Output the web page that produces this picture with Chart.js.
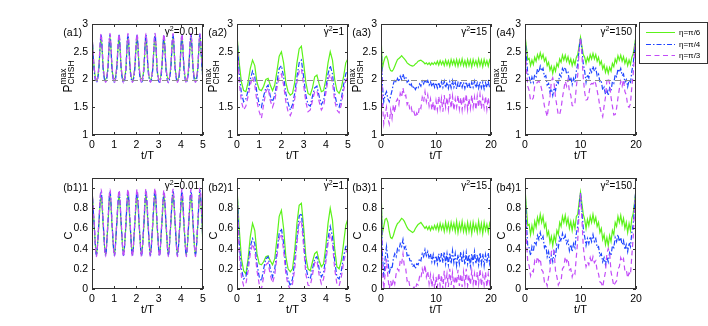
<!DOCTYPE html>
<html>
<head>
<meta charset="utf-8">
<script src="https://cdn.jsdelivr.net/npm/chart.js@4.4.1/dist/chart.umd.min.js"></script>
<style>
  body { margin: 0; background: #fff; }
  #wrap { position: relative; width: 708px; height: 326px; overflow: hidden; }
  #wrap canvas { position: absolute; }
</style>
</head>
<body>
<div id="wrap"></div>
<script>
// ---- data ----
const seriesNames = ['η=π/6', 'η=π/4', 'η=π/3'];
const pTicks = [1, 1.5, 2, 2.5, 3];
const cTicks = [0, 0.2, 0.4, 0.6, 0.8, 1];
const tTicksShort = [0, 1, 2, 3, 4, 5];
const tTicksLong = [0, 10, 20];
const refLevel = 2;

const t1 = [0,0.1,0.2,0.3,0.41,0.51,0.61,0.71,0.81,0.91,1.01,1.11,1.22,1.32,1.42,1.52,1.62,1.72,1.82,1.92,
  2.03,2.13,2.23,2.33,2.43,2.53,2.63,2.73,2.84,2.94,3.04,3.14,3.24,3.34,3.44,3.54,3.65,3.75,3.85,3.95,
  4.05,4.15,4.25,4.35,4.46,4.56,4.66,4.76,4.86,4.96,5];
const t2 = [0,0.1,0.2,0.3,0.4,0.5,0.6,0.7,0.8,0.9,1,1.1,1.2,1.3,1.4,1.5,1.6,1.7,1.8,1.9,
  2,2.1,2.2,2.3,2.4,2.5,2.6,2.7,2.8,2.9,3,3.1,3.2,3.3,3.4,3.5,3.6,3.7,3.8,3.9,
  4,4.1,4.2,4.3,4.4,4.5,4.6,4.7,4.8,4.9,5];
const t3 = [0,0.25,0.5,0.75,1,1.25,1.5,1.75,2,2.25,2.5,2.75,3,3.25,3.5,3.75,4,4.25,4.5,4.75,
  5,5.25,5.5,5.75,6,6.25,6.5,6.75,7,7.25,7.5,7.75,8,8.25,8.5,8.75,9,9.25,9.5,9.75,
  10,10.25,10.5,10.75,11,11.25,11.5,11.75,12,12.25,12.5,12.75,13,13.25,13.5,13.75,14,14.25,14.5,14.75,
  15,15.25,15.5,15.75,16,16.25,16.5,16.75,17,17.25,17.5,17.75,18,18.25,18.5,18.75,19,19.25,19.5,19.75,20];

// gamma^2 = 0.01
const a1G = [2.8,2.2,2.0,2.17, 2.76,2.18,2.0,2.18, 2.77,2.17,2.01,2.19, 2.76,2.18,2.0,2.17, 2.77,2.19,2.0,2.18,
  2.76,2.18,2.01,2.17, 2.77,2.18,2.0,2.18, 2.78,2.17,2.0,2.19, 2.76,2.18,2.01,2.18, 2.77,2.19,2.0,2.17,
  2.76,2.18,2.0,2.18, 2.77,2.17,2.01,2.18, 2.78,2.2,2.04];
const a1B = [2.82,2.15,1.95,2.14, 2.8,2.15,1.96,2.15, 2.81,2.14,1.95,2.16, 2.8,2.15,1.95,2.14, 2.81,2.16,1.96,2.15,
  2.8,2.15,1.95,2.14, 2.81,2.15,1.96,2.15, 2.82,2.14,1.95,2.16, 2.8,2.15,1.95,2.15, 2.81,2.16,1.96,2.14,
  2.8,2.15,1.95,2.15, 2.81,2.14,1.96,2.15, 2.82,2.17,2.0];
const a1P = [2.83,2.22,1.94,2.21, 2.82,2.22,1.95,2.22, 2.83,2.21,1.94,2.23, 2.82,2.22,1.94,2.21, 2.83,2.23,1.95,2.22,
  2.82,2.22,1.94,2.21, 2.83,2.22,1.95,2.22, 2.83,2.21,1.94,2.23, 2.82,2.22,1.94,2.22, 2.83,2.23,1.95,2.21,
  2.82,2.22,1.94,2.22, 2.83,2.21,1.95,2.22, 2.83,2.24,2.02];
const b1G = [1.0,0.62,0.34,0.6, 0.93,0.61,0.34,0.61, 0.94,0.6,0.34,0.62, 0.93,0.61,0.35,0.6, 0.94,0.62,0.34,0.61,
  0.93,0.61,0.34,0.6, 0.94,0.61,0.35,0.61, 0.95,0.6,0.34,0.62, 0.93,0.61,0.34,0.61, 0.94,0.62,0.35,0.6,
  0.93,0.61,0.34,0.61, 0.94,0.6,0.34,0.61, 0.95,0.63,0.4];
const b1B = [1.0,0.63,0.33,0.62, 0.97,0.63,0.33,0.62, 0.97,0.62,0.33,0.63, 0.96,0.63,0.33,0.62, 0.97,0.63,0.33,0.62,
  0.97,0.62,0.33,0.62, 0.97,0.63,0.33,0.63, 0.98,0.62,0.33,0.63, 0.96,0.63,0.33,0.62, 0.97,0.63,0.33,0.62,
  0.97,0.62,0.33,0.63, 0.97,0.62,0.33,0.62, 0.98,0.65,0.42];
const b1P = [1.0,0.65,0.32,0.64, 0.99,0.65,0.32,0.64, 0.99,0.64,0.32,0.65, 0.98,0.65,0.32,0.64, 0.99,0.65,0.32,0.64,
  0.99,0.64,0.32,0.65, 0.99,0.65,0.32,0.64, 1.0,0.64,0.32,0.65, 0.98,0.65,0.32,0.64, 0.99,0.65,0.32,0.64,
  0.99,0.64,0.32,0.65, 0.99,0.64,0.32,0.64, 1.0,0.67,0.43];

// gamma^2 = 1
const a2G = [2.8,2.3,1.95,1.8,1.78,1.95,2.2,2.35,2.25,1.95, 1.82,1.8,1.88,2.0,2.02,1.9,1.8,1.9,2.15,2.42,
  2.5,2.3,1.95,1.78,1.72,1.75,1.95,2.3,2.55,2.6, 2.3,1.95,1.75,1.72,1.85,2.05,2.08,1.92,1.78,1.8,
  2.0,2.3,2.5,2.35,2.0,1.8,1.75,1.85,2.05,2.3, 2.38];
const a2B = [2.8,2.1,1.75,1.6,1.65,1.8,2.0,2.15,2.05,1.75, 1.55,1.5,1.7,1.85,1.9,1.7,1.6,1.72,1.95,2.2,
  2.25,2.05,1.75,1.58,1.45,1.55,1.75,2.05,2.3,2.35, 2.05,1.72,1.55,1.52,1.7,1.85,1.88,1.7,1.55,1.62,
  1.85,2.1,2.25,2.1,1.75,1.55,1.5,1.65,1.9,2.1, 2.2];
const a2P = [2.8,1.95,1.6,1.45,1.52,1.7,1.9,2.05,1.9,1.6, 1.42,1.3,1.55,1.78,1.85,1.62,1.5,1.62,1.85,2.05,
  2.1,1.9,1.6,1.42,1.35,1.45,1.65,1.95,2.15,2.2, 1.9,1.6,1.42,1.45,1.62,1.78,1.8,1.6,1.45,1.52,
  1.75,2.0,2.1,1.95,1.62,1.45,1.4,1.55,1.8,1.98, 2.05];
const b2G = [1.0,0.6,0.3,0.18,0.15,0.3,0.52,0.65,0.58,0.35, 0.25,0.24,0.27,0.32,0.33,0.28,0.24,0.3,0.5,0.72,
  0.78,0.6,0.32,0.2,0.17,0.2,0.38,0.65,0.83,0.85, 0.62,0.32,0.2,0.18,0.27,0.35,0.37,0.28,0.22,0.25,
  0.42,0.65,0.8,0.68,0.4,0.22,0.2,0.28,0.45,0.63, 0.7];
const b2B = [1.0,0.45,0.2,0.1,0.12,0.25,0.42,0.5,0.45,0.25, 0.12,0.08,0.2,0.3,0.32,0.2,0.12,0.2,0.38,0.55,
  0.6,0.45,0.22,0.1,0.03,0.1,0.28,0.5,0.72,0.75, 0.5,0.22,0.12,0.1,0.2,0.3,0.32,0.2,0.12,0.16,
  0.32,0.5,0.62,0.52,0.28,0.12,0.1,0.18,0.32,0.42, 0.45];
const b2P = [1.0,0.35,0.12,0.03,0.05,0.18,0.35,0.45,0.38,0.18, 0.05,0.0,0.12,0.24,0.26,0.14,0.06,0.14,0.32,0.5,
  0.55,0.38,0.15,0.04,0.0,0.05,0.2,0.45,0.65,0.68, 0.42,0.15,0.04,0.03,0.14,0.26,0.28,0.14,0.05,0.1,
  0.26,0.45,0.55,0.45,0.2,0.05,0.03,0.12,0.26,0.36, 0.4];

// gamma^2 = 15
const a3G = [2.8,2.2,2.32,2.4,2.42,2.35,2.22,2.16,2.15,2.18, 2.24,2.3,2.36,2.38,2.4,2.43,2.4,2.37,2.34,2.3,
  2.28,2.26,2.25,2.24,2.25,2.28,2.3,2.33,2.34,2.35, 2.33,2.31,2.28,2.3,2.27,2.3,2.26,2.3,2.27,2.31,
  2.27,2.33,2.26,2.34,2.27,2.33,2.25,2.35,2.26,2.34, 2.24,2.36,2.27,2.35,2.25,2.36,2.24,2.35,2.26,2.37,
  2.25,2.34,2.24,2.36,2.25,2.35,2.23,2.36,2.26,2.34, 2.24,2.37,2.25,2.35,2.23,2.36,2.26,2.34,2.24,2.35, 2.28];
const a3B = [2.8,1.9,1.6,1.72,1.78,1.65,1.6,1.7,1.8,1.92, 2.0,1.95,2.02,1.96,2.06,2.0,2.1,2.02,2.05,1.95,
  1.98,1.88,1.92,1.84,1.88,1.82,1.87,1.85,1.92,1.88, 1.97,1.92,2.0,1.93,1.98,1.9,1.96,1.87,1.95,1.86,
  1.94,1.85,1.95,1.84,1.96,1.86,1.97,1.85,1.95,1.84, 1.96,1.85,1.98,1.86,1.95,1.83,1.94,1.85,1.97,1.86,
  1.95,1.84,1.96,1.85,1.94,1.83,1.95,1.86,1.97,1.85, 1.94,1.84,1.96,1.85,1.95,1.83,1.94,1.86,1.96,1.85, 1.92];
const a3P = [2.8,1.6,1.2,1.35,1.5,1.3,1.2,1.45,1.3,1.55, 1.4,1.6,1.65,1.55,1.75,1.68,1.85,1.7,1.72,1.55,
  1.6,1.45,1.5,1.38,1.42,1.32,1.4,1.35,1.52,1.48, 1.68,1.6,1.78,1.6,1.72,1.52,1.65,1.45,1.6,1.42,
  1.62,1.45,1.7,1.48,1.66,1.42,1.72,1.5,1.68,1.46, 1.74,1.48,1.7,1.44,1.65,1.5,1.72,1.47,1.68,1.45,
  1.7,1.5,1.74,1.46,1.66,1.48,1.72,1.5,1.68,1.45, 1.7,1.5,1.73,1.47,1.67,1.49,1.7,1.46,1.68,1.5, 1.62];
const b3G = [1.0,0.55,0.62,0.69,0.7,0.66,0.57,0.51,0.5,0.53, 0.58,0.62,0.65,0.66,0.68,0.7,0.69,0.67,0.64,0.61,
  0.59,0.58,0.57,0.56,0.57,0.6,0.62,0.64,0.65,0.66, 0.64,0.62,0.6,0.62,0.59,0.62,0.58,0.62,0.59,0.63,
  0.59,0.64,0.58,0.65,0.59,0.64,0.57,0.66,0.58,0.65, 0.57,0.66,0.59,0.65,0.57,0.67,0.56,0.65,0.58,0.67,
  0.57,0.64,0.56,0.66,0.57,0.65,0.55,0.66,0.58,0.64, 0.56,0.67,0.57,0.65,0.55,0.66,0.58,0.64,0.56,0.65, 0.6];
const b3B = [1.0,0.35,0.12,0.3,0.42,0.3,0.15,0.22,0.2,0.3, 0.35,0.32,0.4,0.38,0.45,0.42,0.49,0.4,0.42,0.33,
  0.35,0.28,0.28,0.22,0.24,0.2,0.25,0.24,0.3,0.28, 0.35,0.32,0.39,0.33,0.37,0.3,0.35,0.27,0.34,0.26,
  0.33,0.25,0.35,0.26,0.36,0.26,0.37,0.25,0.35,0.24, 0.36,0.25,0.38,0.26,0.35,0.23,0.34,0.25,0.37,0.26,
  0.35,0.24,0.36,0.25,0.34,0.23,0.35,0.26,0.37,0.25, 0.34,0.24,0.36,0.25,0.35,0.23,0.34,0.26,0.36,0.25, 0.32];
const b3P = [1.0,0.2,0.0,0.15,0.3,0.12,0.0,0.08,0.02,0.1, 0.05,0.15,0.2,0.18,0.28,0.25,0.35,0.22,0.2,0.08,
  0.1,0.02,0.0,0.0,0.02,0.0,0.05,0.04,0.12,0.1, 0.2,0.15,0.24,0.12,0.18,0.05,0.14,0.02,0.12,0.0,
  0.12,0.02,0.16,0.03,0.14,0.0,0.18,0.04,0.15,0.02, 0.2,0.04,0.16,0.01,0.13,0.05,0.19,0.03,0.15,0.02,
  0.17,0.05,0.2,0.03,0.14,0.04,0.18,0.05,0.15,0.02, 0.17,0.05,0.2,0.03,0.14,0.04,0.17,0.02,0.15,0.05, 0.1];

// gamma^2 = 150
const a4G = [2.8,2.58,2.36,2.38,2.25,2.35,2.27,2.4,2.33,2.45, 2.37,2.48,2.38,2.45,2.33,2.39,2.25,2.31,2.17,2.24,
  2.11,2.23,2.15,2.29,2.23,2.37,2.31,2.44,2.35,2.44, 2.33,2.41,2.29,2.37,2.25,2.35,2.27,2.4,2.45,2.6,
  2.76,2.6,2.45,2.4,2.29,2.4,2.33,2.45,2.37,2.47, 2.37,2.45,2.33,2.4,2.27,2.33,2.19,2.26,2.13,2.22,
  2.11,2.22,2.15,2.29,2.23,2.37,2.3,2.43,2.35,2.44, 2.33,2.41,2.29,2.37,2.25,2.35,2.27,2.4,2.47,2.62, 2.78];
const a4B = [2.8,2.42,2.1,2.06,1.93,2.04,1.95,2.09,2.05,2.19, 2.13,2.24,2.15,2.2,2.05,2.07,1.9,1.93,1.77,1.83,
  1.71,1.85,1.8,1.96,1.93,2.09,2.05,2.2,2.15,2.22, 2.1,2.13,1.97,2.04,1.91,2.02,1.95,2.15,2.28,2.55,
  2.75,2.55,2.28,2.15,1.95,2.09,2.03,2.18,2.13,2.24, 2.15,2.2,2.07,2.1,1.95,1.97,1.81,1.86,1.73,1.82,
  1.71,1.85,1.8,1.96,1.93,2.09,2.05,2.19,2.13,2.2, 2.07,2.1,1.95,2.0,1.87,1.99,1.93,2.15,2.28,2.56, 2.78];
const a4P = [2.8,2.2,1.88,1.8,1.62,1.63,1.67,1.88,1.92,1.95, 1.97,1.93,1.82,1.68,1.52,1.43,1.33,1.52,1.68,1.97,
  2.03,1.92,1.68,1.52,1.36,1.37,1.48,1.67,1.83,1.97, 1.88,2.0,1.78,1.72,1.53,1.52,1.58,1.87,2.08,2.52,
  2.75,2.45,2.03,1.77,1.63,1.64,1.73,1.9,1.93,1.92, 1.98,1.92,1.8,1.67,1.5,1.4,1.33,1.52,1.68,1.97,
  2.03,1.92,1.68,1.52,1.36,1.37,1.48,1.67,1.83,1.97, 1.88,2.0,1.78,1.72,1.53,1.5,1.56,1.87,2.1,2.52, 2.78];
const b4G = [1.0,0.8,0.63,0.64,0.54,0.63,0.56,0.67,0.61,0.71, 0.65,0.74,0.66,0.72,0.61,0.65,0.53,0.57,0.46,0.52,
  0.43,0.53,0.47,0.58,0.54,0.66,0.62,0.72,0.66,0.73, 0.64,0.7,0.6,0.67,0.58,0.67,0.6,0.72,0.74,0.86,
  0.96,0.85,0.74,0.69,0.6,0.69,0.63,0.72,0.66,0.74, 0.66,0.71,0.62,0.66,0.56,0.6,0.49,0.54,0.44,0.51,
  0.43,0.53,0.47,0.58,0.54,0.66,0.62,0.72,0.66,0.73, 0.64,0.7,0.6,0.66,0.56,0.65,0.58,0.7,0.75,0.87, 0.97];
const b4B = [1.0,0.66,0.42,0.41,0.33,0.42,0.37,0.47,0.44,0.53, 0.49,0.56,0.49,0.52,0.41,0.44,0.32,0.37,0.27,0.33,
  0.27,0.37,0.33,0.44,0.41,0.51,0.47,0.55,0.49,0.53, 0.45,0.48,0.38,0.44,0.37,0.45,0.41,0.55,0.62,0.8,
  0.95,0.78,0.6,0.52,0.43,0.5,0.45,0.52,0.47,0.54, 0.47,0.5,0.41,0.42,0.33,0.35,0.27,0.31,0.24,0.32,
  0.27,0.36,0.33,0.43,0.41,0.51,0.47,0.54,0.47,0.51, 0.44,0.48,0.39,0.44,0.37,0.46,0.42,0.56,0.64,0.84, 1.0];
const b4P = [1.0,0.5,0.26,0.23,0.13,0.18,0.17,0.28,0.25,0.32, 0.27,0.3,0.19,0.17,0.07,0.08,0.03,0.12,0.18,0.37,
  0.4,0.37,0.18,0.12,0.04,0.07,0.08,0.2,0.22,0.32, 0.27,0.3,0.19,0.2,0.12,0.17,0.15,0.32,0.48,0.76,
  0.95,0.7,0.42,0.3,0.22,0.27,0.24,0.31,0.26,0.32, 0.26,0.28,0.18,0.15,0.07,0.06,0.02,0.1,0.17,0.35,
  0.4,0.36,0.17,0.1,0.03,0.06,0.08,0.2,0.22,0.31, 0.27,0.3,0.18,0.19,0.11,0.16,0.14,0.33,0.52,0.8, 1.0];

// ---- styles ----
const FAM = '"Liberation Sans", Arial, Helvetica, sans-serif';
const colors = ['#5cf21a', '#1f44ff', '#c24cf8'];
const dashes = [[], [5, 2, 1.5, 2], [5, 3.5]];

Chart.defaults.font.family = FAM;
Chart.defaults.color = '#000';

const panels = [
  { name: '(a1)', gamma: '0.01', kind: 'P', t: t1, ys: [a1G, a1B, a1P], xTicks: tTicksShort, left: 92,  top: 24, w: 111, smooth: true },
  { name: '(a2)', gamma: '1',    kind: 'P', t: t2, ys: [a2G, a2B, a2P], xTicks: tTicksShort, left: 237, top: 24, w: 111 },
  { name: '(a3)', gamma: '15',   kind: 'P', t: t3, ys: [a3G, a3B, a3P], xTicks: tTicksLong,  left: 381, top: 24, w: 110 },
  { name: '(a4)', gamma: '150',  kind: 'P', t: t3, ys: [a4G, a4B, a4P], xTicks: tTicksLong,  left: 525, top: 24, w: 111, legend: true },
  { name: '(b1)', gamma: '0.01', kind: 'C', t: t1, ys: [b1G, b1B, b1P], xTicks: tTicksShort, left: 92,  top: 178, w: 111, smooth: true },
  { name: '(b2)', gamma: '1',    kind: 'C', t: t2, ys: [b2G, b2B, b2P], xTicks: tTicksShort, left: 237, top: 178, w: 111 },
  { name: '(b3)', gamma: '15',   kind: 'C', t: t3, ys: [b3G, b3B, b3P], xTicks: tTicksLong,  left: 381, top: 178, w: 110 },
  { name: '(b4)', gamma: '150',  kind: 'C', t: t3, ys: [b4G, b4B, b4P], xTicks: tTicksLong,  left: 525, top: 178, w: 111 }
];

function drawGamma(ctx, right, base, val) {
  const f1 = '10px ' + FAM, f2 = '7px ' + FAM;
  ctx.font = f1;
  const wG = ctx.measureText('γ').width, wE = ctx.measureText('=' + val).width;
  ctx.font = f2;
  const w2 = ctx.measureText('2').width;
  const x0 = right - (wG + w2 + wE);
  ctx.textAlign = 'left';
  ctx.textBaseline = 'alphabetic';
  ctx.font = f1; ctx.fillText('γ', x0, base);
  ctx.font = f2; ctx.fillText('2', x0 + wG, base - 4);
  ctx.font = f1; ctx.fillText('=' + val, x0 + wG + w2, base);
}

function drawPTitle(ctx, bx, cy) {
  ctx.save();
  ctx.translate(bx, cy);
  ctx.rotate(-Math.PI / 2);
  const fBig = '12px ' + FAM, fSmall = '8.5px ' + FAM;
  ctx.font = fBig;
  const wP = ctx.measureText('P').width;
  ctx.font = fSmall;
  const wS = ctx.measureText('CHSH').width;
  const x0 = -(wP + wS) / 2;
  ctx.textAlign = 'left';
  ctx.textBaseline = 'alphabetic';
  ctx.font = fBig; ctx.fillText('P', x0, 0);
  ctx.font = fSmall;
  ctx.fillText('max', x0 + wP, -6);
  ctx.fillText('CHSH', x0 + wP, 2);
  ctx.restore();
}

function decor(p) {
  return {
    id: 'decor',
    afterDatasetsDraw(chart) {
      const ctx = chart.ctx, a = chart.chartArea;
      const xs = chart.scales.x, ys = chart.scales.y;
      ctx.save();

      if (p.kind === 'P') {
        const yy = Math.round(ys.getPixelForValue(refLevel)) + 0.5;
        ctx.strokeStyle = '#8c8c8c';
        ctx.lineWidth = 1;
        ctx.setLineDash([6, 4]);
        ctx.beginPath(); ctx.moveTo(a.left, yy); ctx.lineTo(a.right, yy); ctx.stroke();
        ctx.setLineDash([]);
      }

      // box with inward ticks
      ctx.strokeStyle = '#333';
      ctx.lineWidth = 1;
      ctx.strokeRect(a.left + 0.5, a.top + 0.5, a.right - a.left - 1, a.bottom - a.top - 1);
      ctx.beginPath();
      xs.ticks.forEach(tk => {
        const px = Math.round(xs.getPixelForValue(tk.value)) + 0.5;
        ctx.moveTo(px, a.bottom); ctx.lineTo(px, a.bottom - 3);
        ctx.moveTo(px, a.top); ctx.lineTo(px, a.top + 3);
      });
      ys.ticks.forEach(tk => {
        const py = Math.round(ys.getPixelForValue(tk.value)) + 0.5;
        ctx.moveTo(a.left, py); ctx.lineTo(a.left + 3, py);
        ctx.moveTo(a.right, py); ctx.lineTo(a.right - 3, py);
      });
      ctx.stroke();

      ctx.fillStyle = '#000';
      drawGamma(ctx, a.right - 4, a.top + 11, p.gamma);

      // panel label
      ctx.font = '10.5px ' + FAM;
      ctx.textAlign = 'right';
      ctx.textBaseline = 'middle';
      const ly = p.kind === 'P' ? a.top + 9 : ys.getPixelForValue(1);
      ctx.fillText(p.name, a.left - 10, ly);

      // axis titles
      ctx.font = '11px ' + FAM;
      ctx.textAlign = 'center';
      ctx.fillText('t/T', (a.left + a.right) / 2, a.bottom + 21);
      const cy = (a.top + a.bottom) / 2;
      if (p.kind === 'P') {
        drawPTitle(ctx, a.left - 20, cy - 3);
      } else {
        ctx.save();
        ctx.translate(a.left - 23, cy + 2);
        ctx.rotate(-Math.PI / 2);
        ctx.font = '11px ' + FAM;
        ctx.textAlign = 'center';
        ctx.textBaseline = 'middle';
        ctx.fillText('C', 0, 0);
        ctx.restore();
      }

      if (p.legend) {
        const bx = a.right + 3, by = a.top - 2, bw = 68, bh = 41;
        ctx.fillStyle = '#fff';
        ctx.fillRect(bx, by, bw, bh);
        ctx.strokeStyle = '#333';
        ctx.strokeRect(bx + 0.5, by + 0.5, bw, bh);
        const rows = [10, 22, 33];
        chart.data.datasets.forEach((ds, k) => {
          const yy = by + rows[k] + 0.5;
          ctx.strokeStyle = ds.borderColor;
          ctx.lineWidth = 1;
          ctx.setLineDash(ds.borderDash);
          ctx.beginPath(); ctx.moveTo(bx + 7, yy); ctx.lineTo(bx + 36, yy); ctx.stroke();
          ctx.setLineDash([]);
          ctx.fillStyle = '#000';
          ctx.font = '8px ' + FAM;
          ctx.textAlign = 'left';
          ctx.textBaseline = 'middle';
          ctx.fillText(ds.label, bx + 40, yy);
        });
      }
      ctx.restore();
    }
  };
}

const wrap = document.getElementById('wrap');
panels.forEach(p => {
  const L = 50, T = 14, B = 40, R = p.legend ? 72 : 12, h = 111;
  const cv = document.createElement('canvas');
  cv.width = p.w + L + R;
  cv.height = h + T + B;
  cv.style.width = cv.width + 'px';
  cv.style.height = cv.height + 'px';
  cv.style.left = (p.left - L) + 'px';
  cv.style.top = (p.top - T) + 'px';
  wrap.appendChild(cv);

  const yTicks = p.kind === 'P' ? pTicks : cTicks;
  const tickFont = { family: FAM, size: 10.5 };

  new Chart(cv.getContext('2d'), {
    type: 'line',
    data: {
      datasets: p.ys.map((vals, k) => ({
        label: seriesNames[k],
        data: p.t.map((x, i) => ({ x: x, y: vals[i] })),
        borderColor: colors[k],
        borderWidth: 1.2,
        borderDash: dashes[k],
        pointRadius: 0,
        fill: false,
        cubicInterpolationMode: p.smooth ? 'monotone' : 'default',
        tension: 0,
        order: 3 - k
      }))
    },
    options: {
      responsive: false,
      animation: false,
      layout: { padding: { left: 0, right: R, top: T, bottom: 0 } },
      plugins: { legend: { display: false }, tooltip: { enabled: false } },
      scales: {
        x: {
          type: 'linear',
          min: 0,
          max: p.xTicks[p.xTicks.length - 1],
          grid: { display: false, drawTicks: false },
          border: { display: false },
          ticks: { padding: 4, font: tickFont, color: '#000', maxRotation: 0, autoSkip: false, callback: v => String(v) },
          afterBuildTicks: s => { s.ticks = p.xTicks.map(v => ({ value: v })); },
          afterFit: s => { s.height = B; }
        },
        y: {
          min: p.kind === 'P' ? 1 : 0,
          max: p.kind === 'P' ? 3 : 1.1,
          grid: { display: false, drawTicks: false },
          border: { display: false },
          ticks: { padding: 4, font: tickFont, color: '#000', autoSkip: false, callback: v => String(v) },
          afterBuildTicks: s => { s.ticks = yTicks.map(v => ({ value: v })); },
          afterFit: s => { s.width = L; }
        }
      }
    },
    plugins: [decor(p)]
  });
});
</script>
</body>
</html>
